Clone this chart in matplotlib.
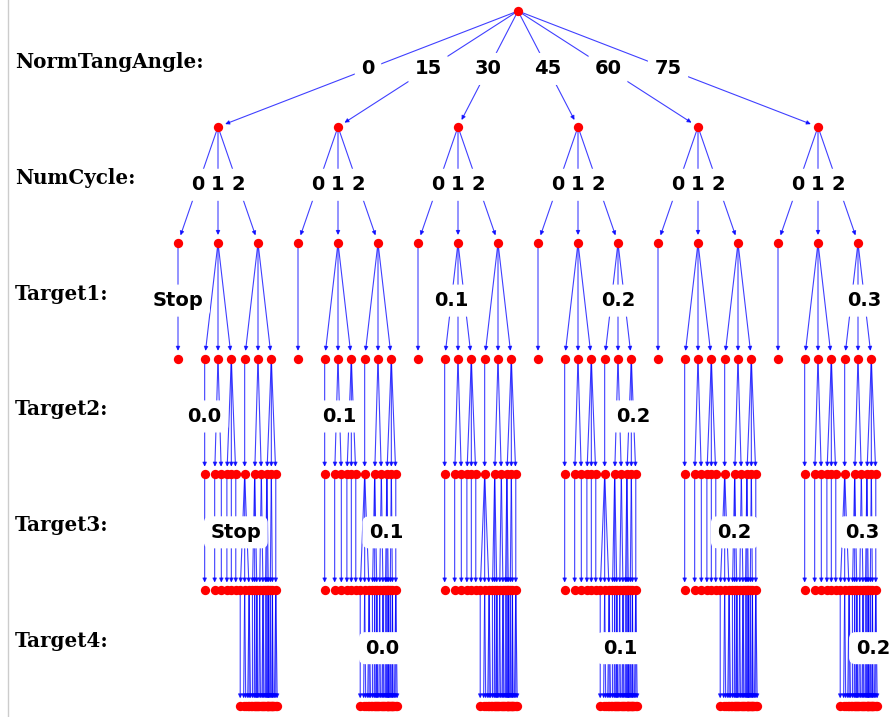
import matplotlib
matplotlib.use('Agg')
import matplotlib.pyplot as plt
from matplotlib.patches import FancyArrowPatch
from matplotlib.lines import Line2D

# decision tree: NormTangAngle -> NumCycle -> Target1..Target4
level_names = ['NormTangAngle:', 'NumCycle:', 'Target1:', 'Target2:', 'Target3:', 'Target4:']
norm_tang_angle = ['0', '15', '30', '45', '60', '75']
num_cycle = ['0', '1', '2']
target_up = ['0.1', '0.2', '0.3']     # Target1 / Target3 choices
target_down = ['0.0', '0.1', '0.2']   # Target2 / Target4 choices

# Target-level edges whose label is visible (path of choices from root)
shown_labels = [
    ('0', '0', 'Stop'),
    ('30', '1', '0.1'),
    ('45', '2', '0.2'),
    ('75', '2', '0.3'),
    ('0', '1', '0.1', '0.0'),
    ('15', '1', '0.2', '0.1'),
    ('45', '2', '0.3', '0.2'),
    ('0', '1', '0.3', '0.2', 'Stop'),
    ('15', '2', '0.3', '0.0', '0.1'),
    ('60', '2', '0.2', '0.0', '0.2'),
    ('75', '2', '0.2', '0.1', '0.3'),
    ('15', '2', '0.2', '0.1', '0.3', '0.0'),
    ('45', '2', '0.2', '0.1', '0.2', '0.1'),
    ('75', '2', '0.3', '0.1', '0.3', '0.2'),
]


def children(path):
    d = len(path)
    if d == 0:
        return norm_tang_angle
    if d == 1:
        return num_cycle
    cyc = int(path[1])
    if d == 2:
        return ['Stop'] if cyc == 0 else target_up
    if d == 3:
        if path[2] == 'Stop':
            return []
        return [v for v in target_down if float(v) < float(path[2])]
    if d == 4:
        if cyc == 1:
            return ['Stop']
        return [v for v in target_up if float(v) > float(path[3])]
    if d == 5:
        if path[4] == 'Stop':
            return []
        return [v for v in target_down if float(v) < float(path[4])]
    return []


# layout in pixel space
W, H = 891, 717
y_top, y_gap = 11, 115.85


def layout(path, x, width, pos):
    pos[path] = (x, y_top + y_gap * len(path))
    kids = children(path)
    if kids:
        dx = width / len(kids)
        nextx = x - width / 2 - dx / 2
        for k in kids:
            nextx += dx
            layout(path + (k,), nextx, dx, pos)


pos = {}
layout((), 518, 720, pos)

fig = plt.figure(figsize=(W / 100, H / 100), dpi=100)
ax = fig.add_axes([0, 0, 1, 1])
ax.set_xlim(0, W)
ax.set_ylim(H, 0)
ax.axis('off')

# edges
for path, (x1, y1) in pos.items():
    if not path:
        continue
    x0, y0 = pos[path[:-1]]
    arr = FancyArrowPatch((x0, y0), (x1, y1), arrowstyle='-|>', mutation_scale=6,
                          color='blue', lw=0.8, alpha=0.75, shrinkA=3, shrinkB=5.5, zorder=1)
    ax.add_patch(arr)
    if len(path) <= 2 or path in shown_labels:
        ax.text((x0 + x1) / 2, (y0 + y1) / 2, path[-1], ha='center', va='center',
                fontsize=14, fontweight='bold', zorder=3,
                bbox=dict(boxstyle='round', fc='white', ec='white'))

# nodes
xs = [p[0] for p in pos.values()]
ys = [p[1] for p in pos.values()]
ax.scatter(xs, ys, s=45, color='red', zorder=2, linewidths=0)

# level names
for i, name in enumerate(level_names):
    ax.text(15, y_top + y_gap * (i + 0.5) - 7, name, ha='left', va='center',
            fontsize=14.3, fontweight='bold', family='DejaVu Serif')

fig.add_artist(Line2D([8 / W, 8 / W], [0, 1], color='#cccccc', lw=1))

fig.savefig('out.png', dpi=100)
